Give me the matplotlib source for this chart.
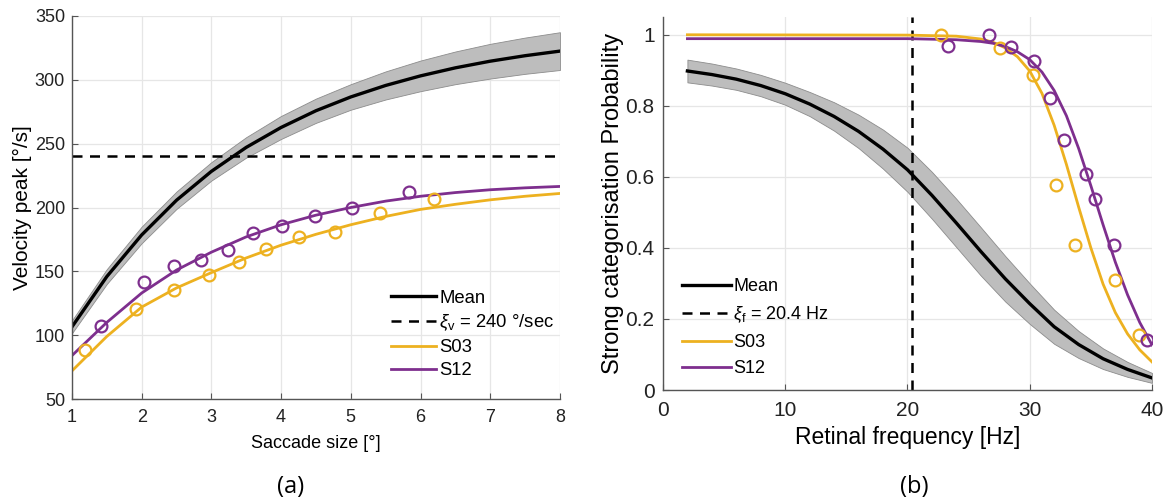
import matplotlib
matplotlib.use('Agg')
import matplotlib.pyplot as plt

plt.rcParams['font.family'] = ['Liberation Sans', 'DejaVu Sans']
plt.rcParams['mathtext.fontset'] = 'custom'
plt.rcParams['mathtext.rm'] = 'Liberation Sans'
plt.rcParams['mathtext.it'] = 'Liberation Sans:italic'

# ---- panel (a): velocity peak vs saccade size ----
sac_x = [1, 1.5, 2, 2.5, 3, 3.5, 4, 4.5, 5, 5.5, 6, 6.5, 7, 7.5, 8]
vel_mean = [106.5, 145.9, 178.5, 205.7, 228.3, 247.1, 262.7, 275.8, 286.6, 295.6, 303.1, 309.4, 314.6, 318.9, 322.5]
vel_hi = [111.5, 151.7, 185.0, 212.5, 235.5, 255.1, 271.7, 285.3, 296.6, 306.6, 315.1, 322.2, 328.2, 333.1, 337.3]
vel_lo = [101.5, 140.1, 172.0, 198.9, 221.1, 239.1, 253.7, 266.3, 276.6, 284.6, 291.1, 296.6, 301.0, 304.7, 307.7]
vel_s03 = [72, 99, 122, 137, 149, 160.5, 170.5, 179, 186.5, 193, 198.5, 202.5, 206, 208.8, 211]
vel_s12 = [84, 110, 133, 151, 165, 177, 186.5, 194, 200, 205, 208.8, 211.7, 213.9, 215.4, 216.5]
xi_v = 240

s03_pts_x = [1.19, 1.92, 2.46, 2.97, 3.39, 3.79, 4.25, 4.78, 5.42, 6.20]
s03_pts_y = [88, 120.6, 135, 147, 157, 167.4, 176.6, 181.2, 195.4, 206.8]
s12_pts_x = [1.41, 2.03, 2.46, 2.85, 3.24, 3.59, 4.02, 4.49, 5.02, 5.84]
s12_pts_y = [107, 142, 154.3, 158.8, 167, 180, 185.4, 193, 199.5, 211.8]

# ---- panel (b): categorisation probability vs retinal frequency ----
freq_x = [2, 4, 6, 8, 10, 12, 14, 16, 18, 20, 22, 24, 26, 28, 30, 32, 34, 36, 38, 40]
prob_mean = [0.898, 0.888, 0.875, 0.857, 0.834, 0.805, 0.770, 0.728, 0.678, 0.620,
             0.548, 0.470, 0.390, 0.313, 0.243, 0.178, 0.128, 0.088, 0.058, 0.034]
prob_hw = [0.032, 0.031, 0.030, 0.030, 0.031, 0.034, 0.040, 0.047, 0.055, 0.062,
           0.066, 0.068, 0.068, 0.064, 0.057, 0.048, 0.038, 0.029, 0.021, 0.014]
xi_f = 20.4

fit_x = [2, 20, 24, 26, 27, 28, 29, 30, 31, 32, 33, 34, 35, 36, 37, 38, 39, 40]
prob_s03 = [1.0, 0.999, 0.996, 0.988, 0.979, 0.963, 0.938, 0.898, 0.835, 0.745,
            0.635, 0.515, 0.400, 0.298, 0.218, 0.158, 0.113, 0.079]
prob_s12 = [0.989, 0.989, 0.986, 0.981, 0.976, 0.967, 0.952, 0.930, 0.895, 0.843,
            0.772, 0.680, 0.575, 0.465, 0.360, 0.268, 0.190, 0.127]

s03_fx = [22.75, 27.58, 30.25, 32.13, 33.69, 37.0, 38.95]
s03_fy = [1.0, 0.964, 0.886, 0.578, 0.408, 0.309, 0.155]
s12_fx = [23.3, 26.7, 28.5, 30.33, 31.67, 32.79, 34.64, 35.32, 36.93, 39.58]
s12_fy = [0.967, 1.0, 0.966, 0.927, 0.823, 0.705, 0.608, 0.538, 0.408, 0.141]

yellow = '#EDB120'
purple = '#7E2F8E'
band = '#BDBDBD'

fig = plt.figure(figsize=(11.68, 5.0), dpi=100)
ax1 = fig.add_axes([0.0616, 0.202, 0.4178, 0.766])
ax2 = fig.add_axes([0.5676, 0.22, 0.4187, 0.746])


def style(ax, fs, xpad, ypad):
    for s in ['top', 'right']:
        ax.spines[s].set_visible(False)
    for s in ['left', 'bottom']:
        ax.spines[s].set_color('#555555')
        ax.spines[s].set_linewidth(1.0)
    ax.tick_params(direction='in', length=4, color='#555555', labelsize=fs,
                   labelcolor='#222222')
    ax.tick_params(axis='x', pad=xpad)
    ax.tick_params(axis='y', pad=ypad)
    ax.grid(True, color='#e6e6e6', linewidth=0.9)
    ax.set_axisbelow(True)


# (a)
ax1.fill_between(sac_x, vel_lo, vel_hi, color=band, edgecolor='#8c8c8c', linewidth=0.6)
ax1.plot(sac_x, vel_mean, color='black', lw=2.4, label='Mean')
ax1.axhline(xi_v, color='black', lw=1.8, ls=(0, (4, 3)), label=r'$\xi_\mathrm{v}$ = 240 °/sec')
ax1.plot(sac_x, vel_s03, color=yellow, lw=2.0, label='S03')
ax1.plot(sac_x, vel_s12, color=purple, lw=2.0, label='S12')
ax1.plot(s03_pts_x, s03_pts_y, 'o', mfc='none', mec=yellow, mew=1.6, ms=8.5)
ax1.plot(s12_pts_x, s12_pts_y, 'o', mfc='none', mec=purple, mew=1.6, ms=8.5)
ax1.set_xlim(1, 8)
ax1.set_ylim(50, 350)
ax1.set_xticks(range(1, 9))
ax1.set_yticks(range(50, 351, 50))
style(ax1, 13, 7, 5)
ax1.set_xlabel('Saccade size [°]', fontsize=13, labelpad=7)
ax1.set_ylabel('Velocity peak [°/s]', fontsize=15, labelpad=2)
ax1.legend(loc='upper left', bbox_to_anchor=(0.654, 0.285), frameon=False, fontsize=13.3,
           handlelength=2.45, handletextpad=0.15, labelspacing=0.32, borderpad=0, borderaxespad=0)

# (b)
lo = [m - h for m, h in zip(prob_mean, prob_hw)]
hi = [m + h for m, h in zip(prob_mean, prob_hw)]
ax2.fill_between(freq_x, lo, hi, color=band, edgecolor='#8c8c8c', linewidth=0.6)
ax2.plot(freq_x, prob_mean, color='black', lw=2.4, label='Mean')
ax2.axvline(xi_f, color='black', lw=1.8, ls=(0, (4, 3)), label=r'$\xi_\mathrm{f}$ = 20.4 Hz')
ax2.plot(fit_x, prob_s03, color=yellow, lw=2.0, label='S03')
ax2.plot(fit_x, prob_s12, color=purple, lw=2.0, label='S12')
ax2.plot(s03_fx, s03_fy, 'o', mfc='none', mec=yellow, mew=1.6, ms=8.5)
ax2.plot(s12_fx, s12_fy, 'o', mfc='none', mec=purple, mew=1.6, ms=8.5)
ax2.set_xlim(0, 40)
ax2.set_ylim(0, 1.05)
ax2.set_xticks([0, 10, 20, 30, 40])
ax2.set_yticks([0, 0.2, 0.4, 0.6, 0.8, 1])
ax2.set_yticklabels(['0', '0.2', '0.4', '0.6', '0.8', '1'])
style(ax2, 15, 8, 6)
ax2.set_xlabel('Retinal frequency [Hz]', fontsize=16.5, labelpad=4)
ax2.set_ylabel('Strong categorisation Probability', fontsize=17, labelpad=1)
ax2.legend(loc='upper left', bbox_to_anchor=(0.039, 0.30), frameon=False, fontsize=13,
           handlelength=2.7, handletextpad=0.15, labelspacing=0.5, borderpad=0, borderaxespad=0)

fig.text(0.249, 0.026, '(a)', fontsize=17, ha='center', va='center', family=['Open Sans', 'DejaVu Sans'])
fig.text(0.783, 0.026, '(b)', fontsize=17, ha='center', va='center', family=['Open Sans', 'DejaVu Sans'])

fig.savefig('out.png', dpi=100)
